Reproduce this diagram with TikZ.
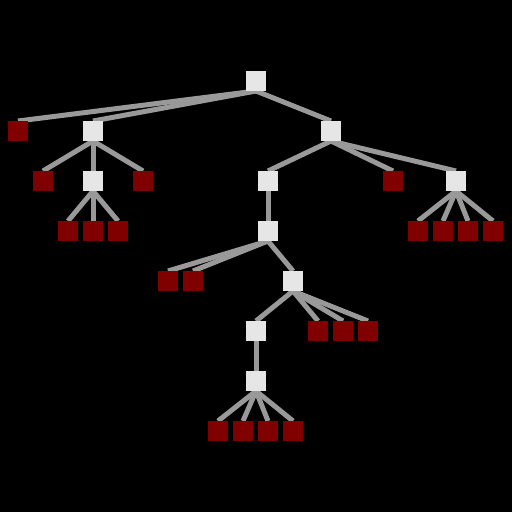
\documentclass[tikz,border=0pt]{standalone}
\definecolor{edgegray}{RGB}{153,153,153}
\definecolor{boxgray}{RGB}{230,230,230}
\definecolor{leafred}{RGB}{128,0,0}
\pgfdeclarelayer{bg}
\pgfdeclarelayer{edges}
\pgfsetlayers{bg,edges,main}
\begin{document}
\begin{tikzpicture}[x=1pt,y=-1pt,
  inode/.style={fill=boxgray,minimum size=20pt,inner sep=0pt,outer sep=0pt},
  leaf/.style={fill=leafred,minimum size=20pt,inner sep=0pt,outer sep=0pt},
  edge/.style={draw=edgegray,line width=5pt}]
\begin{pgfonlayer}{bg}
\fill[black] (0,0) rectangle (512,512);
\end{pgfonlayer}
\useasboundingbox (0,0) rectangle (512,512);
% nodes
\node[inode] (r) at (256,81) {};
\node[leaf] (l1) at (18,131) {};
\node[inode] (a) at (93,131) {};
\node[inode] (b) at (331,131) {};
\node[leaf] (a1) at (43,181) {};
\node[inode] (c) at (93,181) {};
\node[leaf] (a3) at (143,181) {};
\node[inode] (d) at (268,181) {};
\node[leaf] (b2) at (393,181) {};
\node[inode] (e) at (456,181) {};
\node[leaf] (c1) at (68,231) {};
\node[leaf] (c2) at (93,231) {};
\node[leaf] (c3) at (118,231) {};
\node[inode] (f) at (268,231) {};
\node[leaf] (e1) at (418,231) {};
\node[leaf] (e2) at (443,231) {};
\node[leaf] (e3) at (468,231) {};
\node[leaf] (e4) at (493,231) {};
\node[leaf] (f1) at (168,281) {};
\node[leaf] (f2) at (193,281) {};
\node[inode] (g) at (293,281) {};
\node[inode] (h) at (256,331) {};
\node[leaf] (g2) at (318,331) {};
\node[leaf] (g3) at (343,331) {};
\node[leaf] (g4) at (368,331) {};
\node[inode] (i) at (256,381) {};
\node[leaf] (i1) at (218,431) {};
\node[leaf] (i2) at (243,431) {};
\node[leaf] (i3) at (268,431) {};
\node[leaf] (i4) at (293,431) {};
% edges
\begin{pgfonlayer}{edges}
\foreach \p/\c in {r/l1,r/a,r/b,a/a1,a/c,a/a3,b/d,b/b2,b/e,c/c1,c/c2,c/c3,d/f,e/e1,e/e2,e/e3,e/e4,f/f1,f/f2,f/g,g/h,g/g2,g/g3,g/g4,h/i,i/i1,i/i2,i/i3,i/i4}
  \draw[edge] (\p.south) -- (\c.north);
\end{pgfonlayer}
\end{tikzpicture}
\end{document}
